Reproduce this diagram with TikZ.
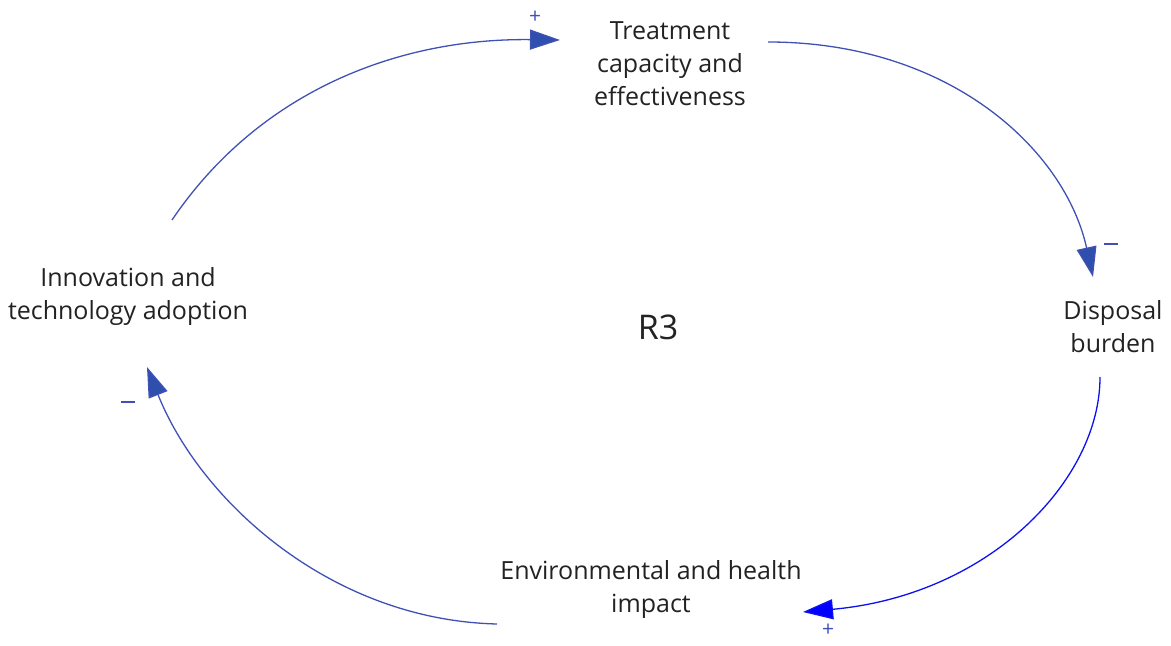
\documentclass[tikz,border=0pt]{standalone}
\usepackage{fontspec}
\setmainfont{Open Sans}
\usetikzlibrary{arrows.meta}
\definecolor{linkc}{HTML}{3F51B5}
\definecolor{tipc}{HTML}{2F4FAF}
\definecolor{txtc}{HTML}{222222}
\begin{document}
\begin{tikzpicture}[x=0.5pt,y=-0.5pt,
  var/.style={align=center,font=\fontsize{12.5}{16.5}\selectfont,text=txtc,inner sep=0pt},
  link/.style={draw=linkc,line width=0.65pt,-{Triangle[length=15pt,width=10pt,fill=tipc]}},
  pol/.style={text=linkc,font=\fontsize{10.5}{11}\selectfont,inner sep=0pt}]
\useasboundingbox (0,0) rectangle (1171,646);
\node[var] (treat) at (670,64) {Treatment\\capacity and\\effectiveness};
\node[var] (disp) at (1113,327) {Disposal\\burden};
\node[var] (env) at (651,590) {Environmental and health\\impact};
\node[var] (innov) at (128,297) {Innovation and\\technology adoption};
\node[font=\fontsize{17}{20}\selectfont,text=txtc,inner sep=0pt] (r3) at (658,327) {R3};
\coordinate (a1s) at (172,220); \coordinate (a1e) at (560,40);
\coordinate (a2s) at (768,42); \coordinate (a2e) at (1093,277);
\coordinate (a3s) at (1100,377); \coordinate (a3e) at (803,612);
\coordinate (a4s) at (497,624); \coordinate (a4e) at (147,367);
\draw[link] (a1s) .. controls (260,90) and (400,38) .. (a1e);
\draw[link] (a2s) .. controls (950,42) and (1065,150) .. (a2e);
\draw[link,draw=blue!80!linkc,-{Triangle[length=15pt,width=10pt,fill=blue]}] (a3s) .. controls (1100,480) and (990,595) .. (a3e);
\draw[link] (a4s) .. controls (330,620) and (200,500) .. (a4e);
\node[pol] (p1) at (535,17) {+};
\node[pol] (p2) at (1111,244) {\rule{7pt}{0.7pt}};
\node[pol] (p3) at (828,630) {+};
\node[pol] (p4) at (128,402) {\rule{7pt}{0.7pt}};
\end{tikzpicture}
\end{document}
